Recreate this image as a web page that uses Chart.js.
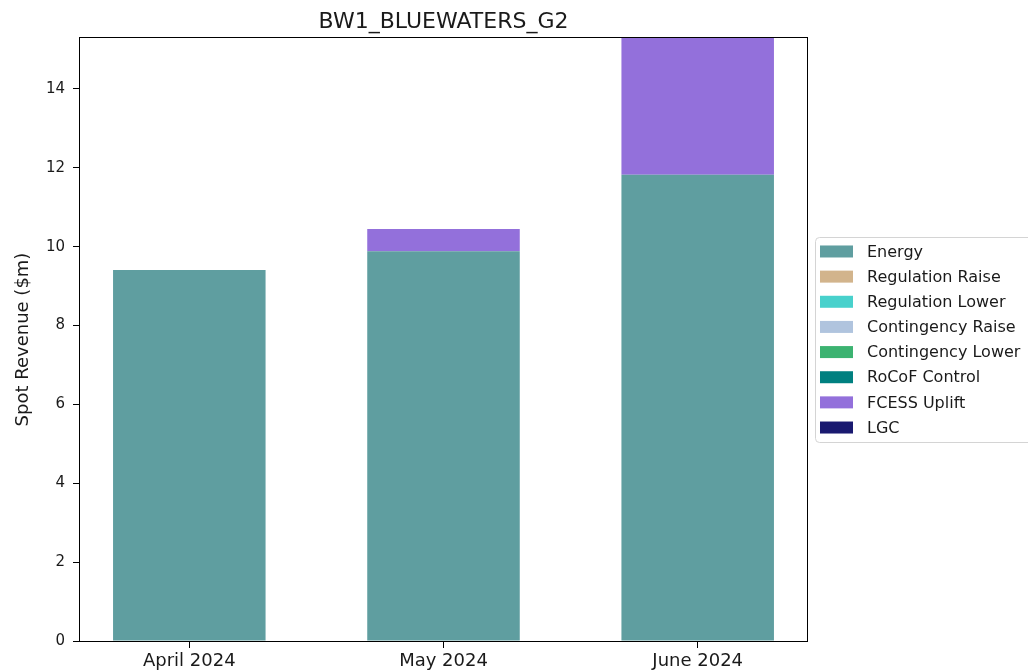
<!DOCTYPE html>
<html>
<head>
<meta charset="utf-8">
<script src="https://cdn.jsdelivr.net/npm/chart.js@4"></script>
<style>
  html, body { margin: 0; padding: 0; background: #fff; }
  #chart { display: block; }
</style>
</head>
<body>
<canvas id="chart" width="1028" height="671"></canvas>
<script>
const CATEGORIES = ['April 2024', 'May 2024', 'June 2024'];

const SERIES_NAMES = ['Energy', 'Regulation Raise', 'Regulation Lower', 'Contingency Raise',
                      'Contingency Lower', 'RoCoF Control', 'FCESS Uplift', 'LGC'];
const SERIES_COLORS = ['#5f9ea0', '#d2b48c', '#48d1cc', '#b0c4de',
                       '#3cb371', '#008080', '#9370db', '#191970'];

// $m per month
const ENERGY       = [9.41, 9.88, 11.82];
const REG_RAISE    = [0, 0, 0];
const REG_LOWER    = [0, 0, 0];
const CONT_RAISE   = [0, 0, 0];
const CONT_LOWER   = [0, 0, 0];
const ROCOF        = [0, 0, 0];
const FCESS_UPLIFT = [0, 0.57, 3.47];
const LGC          = [0, 0, 0];

const SERIES_VALUES = [ENERGY, REG_RAISE, REG_LOWER, CONT_RAISE, CONT_LOWER, ROCOF, FCESS_UPLIFT, LGC];

const Y_MAX = 15.29;
const FONT = "'DejaVu Sans', sans-serif";

const datasets = SERIES_NAMES.map((name, s) => ({
  label: name,
  data: SERIES_VALUES[s].map((v, i) => ({ x: i, y: v })),
  backgroundColor: SERIES_COLORS[s],
  borderWidth: 0,
  barPercentage: 0.6,
  categoryPercentage: 1,
}));

// axes box (matplotlib draws all four spines)
const frameBox = {
  id: 'frameBox',
  afterDraw(chart) {
    const { ctx } = chart;
    const { left, top, right, bottom } = chart.chartArea;
    ctx.save();
    ctx.strokeStyle = '#000';
    ctx.lineWidth = 1;
    ctx.strokeRect(Math.round(left) - 0.5, Math.round(top) - 0.5,
                   Math.round(right - left) + 1, Math.round(bottom - top) + 1);
    ctx.restore();
  }
};

// legend placed outside the axes, on the right, clipped by the canvas edge
const sideLegend = {
  id: 'sideLegend',
  afterDraw(chart) {
    const { ctx } = chart;
    const area = chart.chartArea;
    const rowH = 25.15;
    const n = chart.data.datasets.length;
    const x0 = area.right + 8.5;
    const midY = (area.top + area.bottom) / 2;
    const boxTop = Math.round(midY - 103) + 0.5;
    const boxH = 205;

    ctx.save();
    ctx.fillStyle = 'rgba(255,255,255,0.8)';
    ctx.strokeStyle = '#d4d4d4';
    ctx.lineWidth = 1;
    ctx.beginPath();
    ctx.roundRect(x0, boxTop, 240, boxH, 4);
    ctx.fill();
    ctx.stroke();

    ctx.font = '16px ' + FONT;
    ctx.textBaseline = 'middle';
    ctx.textAlign = 'left';
    const firstY = midY - rowH * (n - 1) / 2;
    chart.data.datasets.forEach((ds, i) => {
      const cy = firstY + i * rowH;
      ctx.fillStyle = ds.backgroundColor;
      ctx.fillRect(x0 + 4.5, cy - 6, 33, 12);
      ctx.fillStyle = '#1a1a1a';
      ctx.fillText(ds.label, x0 + 51.5, cy + 1);
    });
    ctx.restore();
  }
};

new Chart(document.getElementById('chart'), {
  type: 'bar',
  data: { datasets },
  plugins: [frameBox, sideLegend],
  options: {
    responsive: false,
    devicePixelRatio: 1,
    animation: false,
    layout: { padding: { top: 0, right: 221, bottom: 0, left: 0 } },
    scales: {
      x: {
        type: 'linear',
        stacked: true,
        offset: false,
        min: -0.43,
        max: 2.43,
        afterBuildTicks: scale => { scale.ticks = CATEGORIES.map((c, i) => ({ value: i })); },
        afterFit: scale => { scale.height = 30; },
        ticks: {
          color: '#1a1a1a',
          font: { family: FONT, size: 18 },
          padding: 3,
          maxRotation: 0,
          autoSkip: false,
          callback: v => CATEGORIES[v],
        },
        grid: { offset: false, drawOnChartArea: false, drawTicks: true, tickLength: 7, color: '#000' },
        border: { display: false },
      },
      y: {
        stacked: true,
        min: 0,
        max: Y_MAX,
        afterFit: scale => { scale.width = 80; },
        ticks: {
          stepSize: 2,
          includeBounds: false,
          color: '#1a1a1a',
          font: { family: FONT, size: 15 },
          padding: 8,
        },
        grid: { drawOnChartArea: false, drawTicks: true, tickLength: 7, color: '#000' },
        border: { display: false },
        title: {
          display: true,
          text: 'Spot Revenue ($m)',
          color: '#1a1a1a',
          font: { family: FONT, size: 18 },
          padding: { top: 13, bottom: 0 },
        },
      },
    },
    plugins: {
      legend: { display: false },
      tooltip: { enabled: false },
      title: {
        display: true,
        text: 'BW1_BLUEWATERS_G2',
        fullSize: false,
        color: '#1a1a1a',
        font: { family: FONT, size: 22, weight: 'normal', lineHeight: 1.2 },
        padding: { top: 9, bottom: 2.6 },
      },
    },
  },
});
</script>
</body>
</html>
